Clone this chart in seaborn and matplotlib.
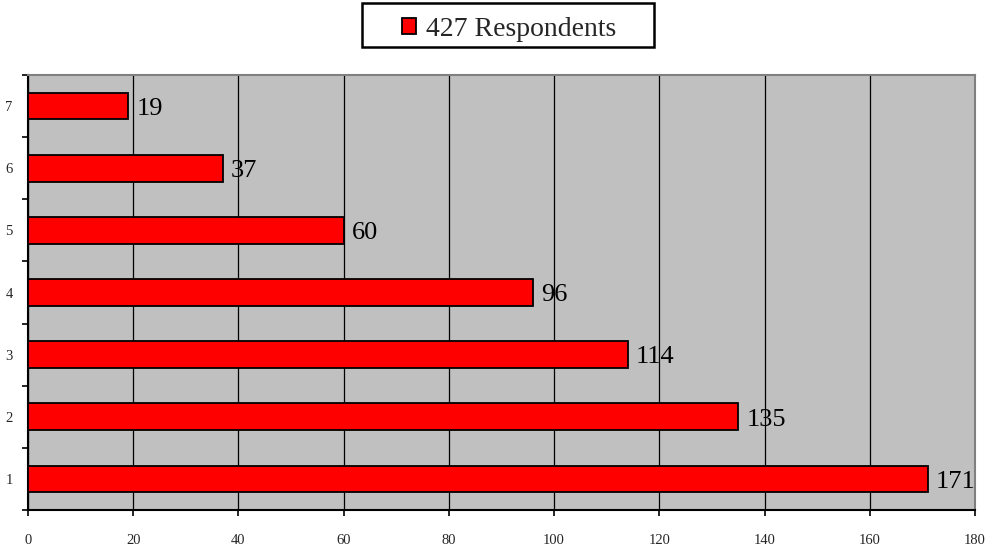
import matplotlib
matplotlib.use("Agg")
import matplotlib.pyplot as plt
import seaborn as sns
import pandas as pd
import numpy as np
from matplotlib.patches import Patch, Rectangle

categories = ["1", "2", "3", "4", "5", "6", "7"]
values = [171, 135, 114, 96, 60, 37, 19]
series_name = "427 Respondents"
x_ticks = [0, 20, 40, 60, 80, 100, 120, 140, 160, 180]

sns.set_theme(style="white")
plt.rcParams["font.family"] = ["Liberation Serif", "DejaVu Serif"]

df = pd.DataFrame({"cat": categories, "val": values})
order = categories[::-1]

W, H = 988, 550
fig = plt.figure(figsize=(9.88, 5.5), dpi=100)
ax = fig.add_axes([28/W, 1-510/H, (975-28)/W, (510-75)/H])
ax.set_facecolor("#C0C0C0")

sns.barplot(data=df, x="val", y="cat", order=order, orient="h", color="#FF0000",
            width=0.43, edgecolor="black", linewidth=1.3, saturation=1, ax=ax, zorder=3)

ax.set_xlim(0, 180)
ax.set_ylim(len(order) - 0.5, -0.5)
ax.set_xticks(x_ticks)
ax.set_xticklabels([str(t) for t in x_ticks], fontsize=10.5)
ax.xaxis.grid(True, color="black", linewidth=0.9, zorder=1)
ax.yaxis.grid(False)
ax.set_axisbelow(True)
ax.set_xlabel("")
ax.set_ylabel("")

ax.tick_params(axis="x", which="major", direction="out", length=4, width=1.2,
               color="black", pad=13, bottom=True)
ax.tick_params(axis="y", which="major", length=0, labelsize=10.5, pad=11)
ax.set_yticks(np.arange(-0.5, len(order), 1.0), minor=True)
ax.tick_params(axis="y", which="minor", direction="out", length=4, width=1.2,
               color="black", left=True)

for side in ["left", "bottom"]:
    ax.spines[side].set_color("black")
    ax.spines[side].set_linewidth(1.5)
for side in ["top", "right"]:
    ax.spines[side].set_color("#808080")
    ax.spines[side].set_linewidth(1.5)

for cont in ax.containers:
    anns = ax.bar_label(cont, labels=[str(v) for v in df.set_index("cat").loc[order, "val"]],
                        padding=6, fontsize=19, color="black")
    for a in anns:
        a.xyann = (6, -2)

# legend frame
fig.add_artist(Rectangle((362/W, 1-47/H), (654-362)/W, 44/H, transform=fig.transFigure,
                         facecolor="white", edgecolor="black", linewidth=1.8, zorder=1))
handle = Patch(facecolor="#FF0000", edgecolor="black", linewidth=1.3)
leg = fig.legend([handle], [series_name], loc="center", bbox_to_anchor=(509/W, 1-29/H),
                 frameon=False, fontsize=20, handlelength=0.5,
                 handleheight=0.5, handletextpad=0.35, borderpad=0.2, borderaxespad=0)
leg.set_zorder(2)

fig.savefig("out.png", dpi=100)
